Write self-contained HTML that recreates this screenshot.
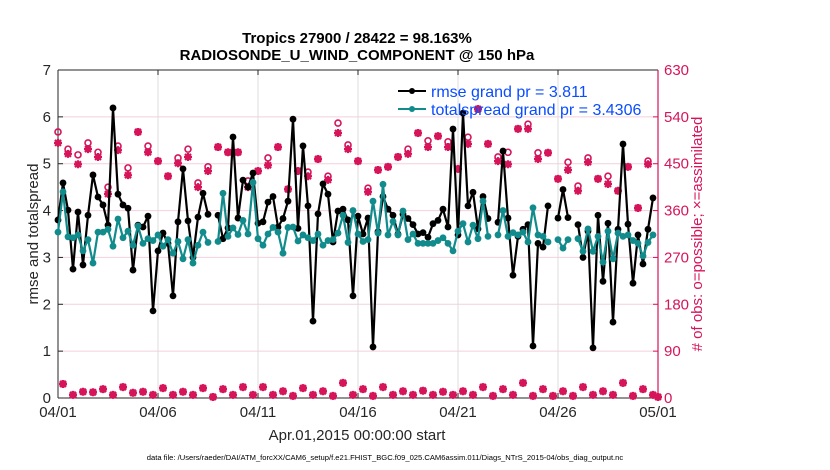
<!DOCTYPE html>
<html><head><meta charset="utf-8">
<style>
html,body{margin:0;padding:0;background:#fff;}
svg{display:block;font-family:"Liberation Sans",Arial,sans-serif;}
</style></head>
<body>
<svg id="chart" width="830" height="470" viewBox="0 0 830 470" xmlns="http://www.w3.org/2000/svg">
  <g id="grid"></g>
  <g id="axes"></g>
  <g id="obs"></g>
  <g id="series"></g>
  <text x="357" y="43" text-anchor="middle" font-size="15" font-weight="bold">Tropics 27900 / 28422 = 98.163%</text>
  <text x="357" y="60" text-anchor="middle" font-size="15" font-weight="bold">RADIOSONDE_U_WIND_COMPONENT @ 150 hPa</text>
  <text transform="translate(38,234) rotate(-90)" text-anchor="middle" font-size="15" fill="#262626">rmse and totalspread</text>
  <text transform="translate(702,234) rotate(-90)" text-anchor="middle" font-size="15" fill="#d6145a"># of obs: o=possible; ×=assimilated</text>
  <text x="357" y="440" text-anchor="middle" font-size="15" fill="#262626">Apr.01,2015 00:00:00 start</text>
  <text x="385" y="460" text-anchor="middle" font-size="7.6" fill="#000">data file: /Users/raeder/DAI/ATM_forcXX/CAM6_setup/f.e21.FHIST_BGC.f09_025.CAM6assim.011/Diags_NTrS_2015-04/obs_diag_output.nc</text>
  <g>
    <g>
      <line x1="398" y1="91" x2="426" y2="91" stroke="#000" stroke-width="2"/>
      <circle cx="412" cy="91" r="3" fill="#000"/>
      <text x="431" y="97" font-size="16" fill="#0a4cff">rmse grand pr = 3.811</text>
    </g>
    <g>
      <line x1="398" y1="109" x2="426" y2="109" stroke="#118b8b" stroke-width="2"/>
      <circle cx="412" cy="109" r="3" fill="#118b8b"/>
      <text x="431" y="115" font-size="16" fill="#0a4cff">totalspread grand pr = 3.4306</text>
    </g>
  </g>
</svg>
<script>
// 6-hourly steps from 04/01 00Z
const rmse = [3.80,4.59,4.01,2.75,3.97,2.84,3.9,4.76,4.29,4.12,3.69,6.19,4.35,4.12,4.05,2.73,3.69,3.65,3.88,1.86,
3.14,3.52,3.3,2.18,3.76,4.89,3.78,3.0,3.86,4.37,3.92,null,3.9,3.4,3.63,5.57,3.84,4.65,4.5,4.8,
3.73,3.76,4.18,4.3,3.65,3.83,4.2,5.95,3.62,5.38,4.1,1.64,3.93,4.57,4.35,3.33,3.99,4.03,3.8,2.18,
3.88,3.5,3.84,1.09,3.55,4.3,4.03,3.9,3.5,3.92,3.83,3.7,3.5,3.53,3.43,3.72,3.79,4.03,3.65,5.74,
3.48,6.08,4.1,4.39,3.61,4.3,3.83,null,3.75,5.27,3.84,2.62,3.45,3.6,3.7,1.11,3.3,3.22,4.1,null,
3.84,4.45,3.85,null,3.7,3.0,3.56,1.07,3.9,2.49,3.73,1.62,3.6,5.42,3.71,2.45,3.48,2.86,3.6,4.27,null];
const spread = [3.54,4.4,3.44,3.42,3.48,3.14,3.38,2.88,3.54,3.54,3.6,3.24,3.82,3.42,3.56,3.26,3.67,3.3,3.4,3.36,
3.48,3.24,3.38,3.09,3.34,2.97,3.38,2.88,3.26,3.54,3.32,null,3.34,4.37,3.45,3.63,3.49,3.79,3.5,4.6,
3.4,3.26,3.5,3.64,3.54,3.09,3.64,3.65,3.35,3.48,3.42,3.36,3.5,3.26,3.36,3.38,3.52,3.9,3.32,4.0,
3.5,3.34,3.38,4.2,3.52,4.56,3.48,3.77,3.48,3.99,3.38,3.5,3.3,3.3,3.3,3.3,3.36,3.42,3.3,3.14,
3.56,3.72,3.33,3.69,3.4,4.2,3.45,null,3.48,4.0,3.45,3.53,3.48,3.54,3.33,4.06,3.48,3.45,3.33,null,
3.38,3.2,3.38,null,3.4,3.13,3.61,3.13,3.45,2.9,3.56,2.97,3.52,3.45,3.48,3.36,3.3,3.03,3.32,3.48,null];
const possible = [511,27,478,6,467,12,490,11,472,17,405,6,484,21,442,10,511,12,484,6,
455,19,426,6,461,12,478,6,413,19,444,2,482,17,472,6,472,21,417,6,
436,21,461,6,482,13,401,4,436,19,434,6,459,13,426,4,528,29,486,6,
455,17,403,4,438,21,444,6,463,13,478,6,509,14,494,6,503,12,492,6,
440,13,501,6,555,21,488,4,463,17,472,6,517,29,526,4,471,17,471,4,
421,13,453,4,407,21,461,6,421,13,426,6,398,29,444,4,365,17,455,6,2];
const assimilated = [490,27,469,6,449,12,478,11,463,17,392,6,476,21,428,10,511,12,472,6,
455,19,426,6,451,12,463,6,405,19,436,2,482,17,472,6,472,21,405,6,
436,21,447,6,482,13,401,4,436,19,426,6,459,13,419,4,509,29,478,6,
455,17,396,4,438,21,444,6,463,13,469,6,509,14,482,6,503,12,482,6,
440,13,488,6,555,21,488,4,455,17,449,6,517,29,517,4,459,17,471,4,
421,13,438,4,398,21,453,6,421,13,411,6,398,29,444,4,365,17,449,6,2];
const xTickLabels = ["04/01","04/06","04/11","04/16","04/21","04/26","05/01"];
const xTickDays = [0,5,10,15,20,25,30];
const yTicks = [0,1,2,3,4,5,6,7];
const rTicks = [0,90,180,270,360,450,540,630];

const NS = "http://www.w3.org/2000/svg";
const X0=58, X1=658, Y0=398, Y1=70;
const xDay = d => X0 + (X1-X0)*d/30;
const xIdx = i => xDay(i/4);
const yL = v => Y0 - (Y0-Y1)*v/7;
const yR = c => Y0 - (Y0-Y1)*c/630;
const PINK="#d6145a", TEAL="#118b8b";
function mk(tag, attrs, parent){const e=document.createElementNS(NS,tag);for(const k in attrs)e.setAttribute(k,attrs[k]);parent.appendChild(e);return e;}

const grid=document.getElementById('grid'), axes=document.getElementById('axes');
yTicks.forEach(v=>{
  if(v>0&&v<7){const g=mk('line',{x1:X0,x2:X1,y1:yL(v),y2:yL(v),stroke:'#f4d0dd','stroke-width':1},grid);
  
  }
  const t=mk('text',{x:X0-7,y:yL(v)+5,'text-anchor':'end','font-size':15,fill:'#262626'},axes);
  t.textContent=v;
  
  
  mk('line',{x1:X0,x2:X0+5,y1:yL(v),y2:yL(v),stroke:'#262626'},axes);
});
xTickDays.forEach((d,k)=>{
  if(d>0&&d<30){const g=mk('line',{x1:xDay(d),x2:xDay(d),y1:Y1,y2:Y0,stroke:'#dcdcdc','stroke-width':1},grid);
  
  }
  mk('line',{x1:xDay(d),x2:xDay(d),y1:Y0,y2:Y0-5,stroke:'#262626'},axes);
  mk('line',{x1:xDay(d),x2:xDay(d),y1:Y1,y2:Y1+5,stroke:'#262626'},axes);
  const t=mk('text',{x:xDay(d),y:417,'text-anchor':'middle','font-size':15,fill:'#262626'},axes);
  t.textContent=xTickLabels[k];
  
  
});
rTicks.forEach(c=>{
  mk('line',{x1:X1,x2:X1-5,y1:yR(c),y2:yR(c),stroke:PINK},axes);
  const t=mk('text',{x:X1+6,y:yR(c)+5,'font-size':15,fill:PINK},axes);
  t.textContent=c;
  
  
});
mk('line',{x1:X0,x2:X0,y1:Y1,y2:Y0,stroke:'#262626'},axes);
mk('line',{x1:X0,x2:X1,y1:Y0,y2:Y0,stroke:'#262626'},axes);
mk('line',{x1:X0,x2:X1,y1:Y1,y2:Y1,stroke:'#262626'},axes);
mk('line',{x1:X1,x2:X1,y1:Y1,y2:Y0,stroke:PINK,'stroke-width':1.2},axes);

const obs=document.getElementById('obs');
possible.forEach((c,i)=>{
  if(c==null)return;
  const ci=mk('circle',{cx:xIdx(i),cy:yR(c),r:3,fill:'none',stroke:PINK,'stroke-width':1.6},obs);
  
  
});
assimilated.forEach((c,i)=>{
  if(c==null)return;
  const x=xIdx(i), y=yR(c), s=4;
  const p=mk('path',{d:`M${x-s},${y}H${x+s}M${x},${y-s}V${y+s}M${x-3},${y-3}L${x+3},${y+3}M${x-3},${y+3}L${x+3},${y-3}`,stroke:PINK,'stroke-width':2.2,fill:'none'},obs);
  
  
});

function drawSeries(vals,color,name){
  const g=document.getElementById('series');
  let d='', pen=false;
  vals.forEach((v,i)=>{ if(v==null){pen=false;return;} d+=(pen?'L':'M')+xIdx(i).toFixed(1)+','+yL(v).toFixed(1); pen=true; });
  const p=mk('path',{d:d,fill:'none',stroke:color,'stroke-width':2.2,'stroke-linejoin':'round'},g);
  
  
  vals.forEach((v,i)=>{ if(v==null)return;
    const c=mk('circle',{cx:xIdx(i),cy:yL(v),r:3.4,fill:color},g);
    
    
  });
}
drawSeries(rmse,'#000','rmse');
drawSeries(spread,TEAL,'totalspread');
</script>
</body></html>
